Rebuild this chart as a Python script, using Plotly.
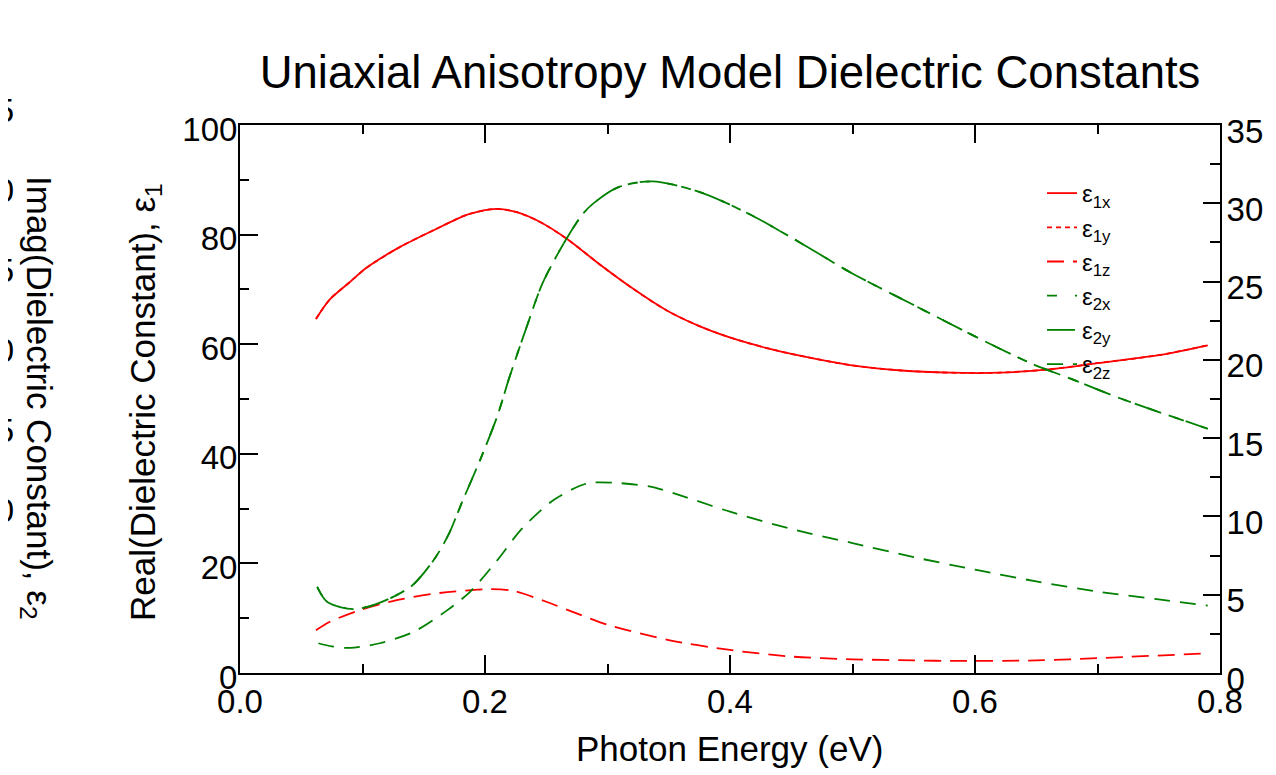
import plotly.graph_objects as go

# --- data (photon energy in eV) ---
x_e1x = [0.062, 0.073, 0.090, 0.103, 0.131, 0.158, 0.185, 0.204, 0.210, 0.226, 0.245,
         0.267, 0.294, 0.321, 0.348, 0.376, 0.403, 0.430, 0.457, 0.498, 0.540, 0.580,
         0.620, 0.660, 0.702, 0.750, 0.790]
e1x = [64.6, 68.1, 71.4, 73.9, 77.8, 80.8, 83.6, 84.6, 84.7, 84.1, 82.3,
       79.2, 74.5, 70.1, 66.2, 63.2, 61.0, 59.3, 57.9, 56.2, 55.2, 54.8,
       54.8, 55.4, 56.6, 58.0, 59.8]
# uniaxial: y component is identical to x
e1y = [64.6, 68.1, 71.4, 73.9, 77.8, 80.8, 83.6, 84.6, 84.7, 84.1, 82.3,
       79.2, 74.5, 70.1, 66.2, 63.2, 61.0, 59.3, 57.9, 56.2, 55.2, 54.8,
       54.8, 55.4, 56.6, 58.0, 59.8]

x_e1z = [0.062, 0.073, 0.098, 0.128, 0.163, 0.204, 0.223, 0.250, 0.278, 0.300,
         0.350, 0.400, 0.450, 0.500, 0.550, 0.580, 0.650, 0.700, 0.790]
e1z = [7.8, 9.3, 11.5, 13.3, 14.6, 15.3, 15.0, 13.0, 10.6, 8.8,
       6.0, 4.2, 3.0, 2.5, 2.3, 2.2, 2.3, 2.7, 3.6]

x_e2x = [0.063, 0.071, 0.090, 0.103, 0.125, 0.141, 0.158, 0.170, 0.182, 0.196,
         0.210, 0.220, 0.234, 0.247, 0.267, 0.283, 0.308, 0.337, 0.376, 0.416,
         0.457, 0.498, 0.550, 0.600, 0.645, 0.678, 0.720, 0.790]
e2x = [5.5, 4.55, 4.09, 4.2, 4.86, 5.62, 7.2, 8.8, 11.05, 13.6,
       16.4, 18.9, 22.1, 24.9, 27.8, 29.6, 31.0, 31.4, 30.7, 29.3,
       27.5, 25.6, 23.5, 21.5, 19.8, 18.8, 17.5, 15.6]
e2y = [5.5, 4.55, 4.09, 4.2, 4.86, 5.62, 7.2, 8.8, 11.05, 13.6,
       16.4, 18.9, 22.1, 24.9, 27.8, 29.6, 31.0, 31.4, 30.7, 29.3,
       27.5, 25.6, 23.5, 21.5, 19.8, 18.8, 17.5, 15.6]

x_e2z = [0.064, 0.075, 0.090, 0.114, 0.141, 0.169, 0.188, 0.210, 0.230, 0.256,
         0.283, 0.305, 0.335, 0.365, 0.400, 0.450, 0.500, 0.550, 0.600, 0.650,
         0.700, 0.750, 0.790]
e2z = [1.9, 1.7, 1.6, 1.9, 2.6, 4.0, 5.2, 7.2, 9.2, 11.05,
       12.1, 12.15, 11.9, 11.2, 10.3, 9.2, 8.3, 7.4, 6.6, 5.85,
       5.2, 4.7, 4.3]

ghost_ticks = [10, 15, 20, 25, 30, 35]

RED = '#ff0000'
GREEN = '#008000'
FONT = 'Liberation Sans, Arial, sans-serif'

# page body has an 8px margin: the figure starts at (8, 8) in the window
OFF = 8
W, H = 1276 - OFF, 775 - OFF
L, R, T, B = 6, 56, 92, 102
PW = W - L - R
PH = H - T - B
frame_left, frame_top, frame_bottom = 240, 125, 673


def px_x(p):
    # window pixel -> paper fraction
    return (p - OFF - L) / PW


def px_y(p):
    return (frame_bottom - p) / PH


fig = go.Figure()

traces = [
    (x_e1x, e1x, 'ε<sub>1x</sub>', RED, 'solid', 'y'),
    (x_e1x, e1y, 'ε<sub>1y</sub>', RED, '5px,4px', 'y'),
    (x_e1z, e1z, 'ε<sub>1z</sub>', RED, '17px,9px', 'y'),
    (x_e2x, e2x, 'ε<sub>2x</sub>', GREEN, '10px,18px', 'y2'),
    (x_e2x, e2y, 'ε<sub>2y</sub>', GREEN, '28px,8px,10px,8px', 'y2'),
    (x_e2z, e2z, 'ε<sub>2z</sub>', GREEN, '16px,10px', 'y2'),
]
for xs, ys, name, color, dash, yax in traces:
    fig.add_trace(go.Scatter(
        x=xs, y=ys, name=name, mode='lines', yaxis=yax,
        line=dict(color=color, width=1.8, dash=dash, shape='spline', smoothing=0.8)
    ))

# empty trace so the cut-off third axis gets drawn
fig.add_trace(go.Scatter(x=[None], y=[None], yaxis='y3', showlegend=False, hoverinfo='skip'))

axis_common = dict(
    showline=True, linecolor='black', linewidth=2,
    ticks='inside', tickcolor='black', tickwidth=2,
    showgrid=False, zeroline=False, automargin=False,
    tickfont=dict(family=FONT, size=33, color='black'),
)

fig.update_layout(
    width=W, height=H,
    margin=dict(l=L, r=R, t=T, b=B),
    paper_bgcolor='white', plot_bgcolor='rgba(0,0,0,0)',
    font=dict(family=FONT, size=33, color='black'),
    title=dict(
        text='Uniaxial Anisotropy Model Dielectric Constants',
        font=dict(family=FONT, size=45.5, color='black'),
        x=px_x(730), xref='paper', xanchor='center',
        y=1 - (72 - OFF) / H, yref='container', yanchor='middle'
    ),
    xaxis=dict(
        axis_common, domain=[px_x(frame_left), 1], range=[0, 0.8],
        tick0=0, dtick=0.2, tickformat='.1f', ticklen=18, mirror='ticks',
        ticklabelstandoff=-2,
        minor=dict(dtick=0.1, ticklen=9, tickwidth=2, ticks='inside', tickcolor='black')
    ),
    yaxis=dict(
        axis_common, domain=[0, px_y(frame_top)], range=[0, 100],
        tick0=0, dtick=20, ticklen=18, ticklabelshift=4, ticklabelstandoff=-6,
        minor=dict(dtick=10, ticklen=9, tickwidth=2, ticks='inside', tickcolor='black')
    ),
    yaxis2=dict(
        axis_common, overlaying='y', side='right', anchor='x', range=[0, 35],
        tick0=0, dtick=5, ticklen=17, ticklabelshift=6, ticklabelstandoff=-2,
        minor=dict(dtick=2.5, ticklen=10, tickwidth=2, ticks='inside', tickcolor='black')
    ),
    yaxis3=dict(
        anchor='free', position=0, side='left',
        domain=[px_y(510), px_y(110)], range=[10, 35],
        tickmode='array', tickvals=ghost_ticks,
        showline=False, ticks='', showgrid=False, zeroline=False, automargin=False,
        tickfont=dict(family=FONT, size=33, color='black')
    ),
    legend=dict(
        x=px_x(1042), y=px_y(171), xanchor='left', yanchor='top',
        bgcolor='rgba(0,0,0,0)', borderwidth=0,
        font=dict(family=FONT, size=24, color='black'),
        tracegroupgap=0, itemwidth=30
    ),
    annotations=[
        dict(text='Photon Energy (eV)', x=px_x(729), y=px_y(748), xref='paper', yref='paper',
             showarrow=False, xanchor='center', yanchor='middle',
             font=dict(family=FONT, size=35, color='black')),
        dict(text='Real(Dielectric Constant), ε<sub>1</sub>', x=px_x(145), y=px_y(402),
             xref='paper', yref='paper', showarrow=False, textangle=-90,
             xanchor='center', yanchor='middle',
             font=dict(family=FONT, size=35, color='black')),
        dict(text='Imag(Dielectric Constant), ε<sub>2</sub>', x=px_x(37), y=px_y(398),
             xref='paper', yref='paper', showarrow=False, textangle=90,
             xanchor='center', yanchor='middle',
             font=dict(family=FONT, size=35, color='black')),
    ],
)

fig.write_html("out.html")
